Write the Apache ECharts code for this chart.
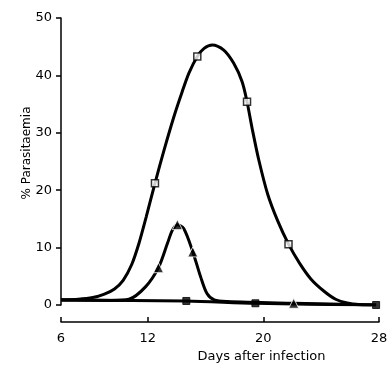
<!DOCTYPE html>
<html>
<head>
<meta charset="utf-8">
<script src="https://cdn.jsdelivr.net/npm/echarts@6/dist/echarts.min.js"></script>
<style>
  html, body { margin: 0; padding: 0; background: #fff; }
  #chart { width: 392px; height: 371px; }
</style>
</head>
<body>
<div id="chart"></div>
<script>
// measured points (markers) and traced curve shape, [day, % parasitaemia]
const openSquarePoints = [[12.5, 21.2], [15.43, 43.3], [18.87, 35.4], [21.74, 10.6]]
const openSquareCurve = [
  [6.0, 0.9], [7.2, 1.0], [8.2, 1.3], [9.0, 1.9], [9.7, 2.8], [10.3, 4.3],
  [10.9, 7.1], [11.4, 10.8], [11.9, 15.4], [13.12, 26.9], [13.81, 32.8],
  [14.39, 37.2], [14.85, 40.4], [15.9, 44.7], [16.46, 45.3], [17.26, 44.4],
  [17.95, 42.1], [18.53, 38.9], [19.22, 30.8], [19.68, 25.3], [20.3, 19.3],
  [21.0, 14.6], [22.5, 7.3], [23.3, 4.5], [24.2, 2.4], [25.0, 1.0],
  [25.8, 0.35], [26.7, 0.05], [27.5, 0.0],
]

const trianglePoints = [[12.74, 6.5], [14.05, 14.0], [15.12, 9.25], [22.1, 0.3]]
const triangleCurve = [
  [6.0, 0.85], [9.5, 0.8], [10.7, 1.0], [11.86, 3.2], [13.36, 10.7], [13.7, 13.0],
  [14.5, 13.3], [15.66, 4.9], [16.1, 2.0], [16.6, 0.9], [17.5, 0.6], [27.8, 0.0],
]

const filledSquarePoints = [[14.67, 0.7], [19.45, 0.3], [27.8, 0.0]]
const filledSquareCurve = [[6.0, 0.85]]

const xTicks = [6, 12, 20, 28]

const merge = (a, b) => [...a, ...b].sort((p, q) => p[0] - q[0])

const lineSeries = (curve, points) => ({
  type: "line",
  data: merge(curve, points),
  smooth: 0.3,
  showSymbol: false,
  lineStyle: { color: "#000", width: 3 },
  z: 2,
})

const markerSeries = (points, symbol, size, fill, border, bw) => ({
  type: "scatter",
  data: points,
  symbol: symbol,
  symbolSize: size,
  itemStyle: { color: fill, borderColor: border, borderWidth: bw },
  z: 5,
})

const chart = echarts.init(document.getElementById("chart"))
chart.setOption({
  animation: false,
  grid: { left: 61, right: 13, top: 18, bottom: 66 },
  xAxis: {
    type: "value",
    min: 6,
    max: 28,
    offset: 17,
    splitLine: { show: false },
    axisLine: { onZero: false, lineStyle: { color: "#000", width: 1.5 } },
    axisTick: { inside: true, length: 5, customValues: xTicks, lineStyle: { color: "#000", width: 1.5 } },
    axisLabel: {
      customValues: xTicks,
      margin: 10,
      color: "#000",
      fontSize: 13,
      fontFamily: "DejaVu Sans",
    },
    name: "Days after infection",
    nameLocation: "middle",
    nameGap: 27,
    nameTextStyle: { color: "#000", fontSize: 13, fontFamily: "DejaVu Sans", padding: [0, 0, 0, 83] },
  },
  yAxis: {
    type: "value",
    min: 0,
    max: 50,
    interval: 10,
    splitLine: { show: false },
    axisLine: { lineStyle: { color: "#000", width: 1.5 } },
    axisTick: { length: 5, lineStyle: { color: "#000", width: 1.5 } },
    axisLabel: { margin: 9, color: "#000", fontSize: 13, fontFamily: "DejaVu Sans" },
    name: "% Parasitaemia",
    nameLocation: "middle",
    nameMoveOverlap: false,
    nameGap: 28,
    nameTextStyle: { color: "#000", fontSize: 12, fontFamily: "DejaVu Sans", padding: [0, 0, 0, 17] },
  },
  series: [
    lineSeries(filledSquareCurve, filledSquarePoints),
    lineSeries(triangleCurve, trianglePoints),
    lineSeries(openSquareCurve, openSquarePoints),
    markerSeries(filledSquarePoints, "rect", 7, "#000", "#000", 1),
    markerSeries(trianglePoints, "triangle", 10, "#000", "#fff", 1),
    markerSeries(openSquarePoints, "rect", 7, "#fff", "#000", 1.5),
  ],
})
</script>
</body>
</html>
